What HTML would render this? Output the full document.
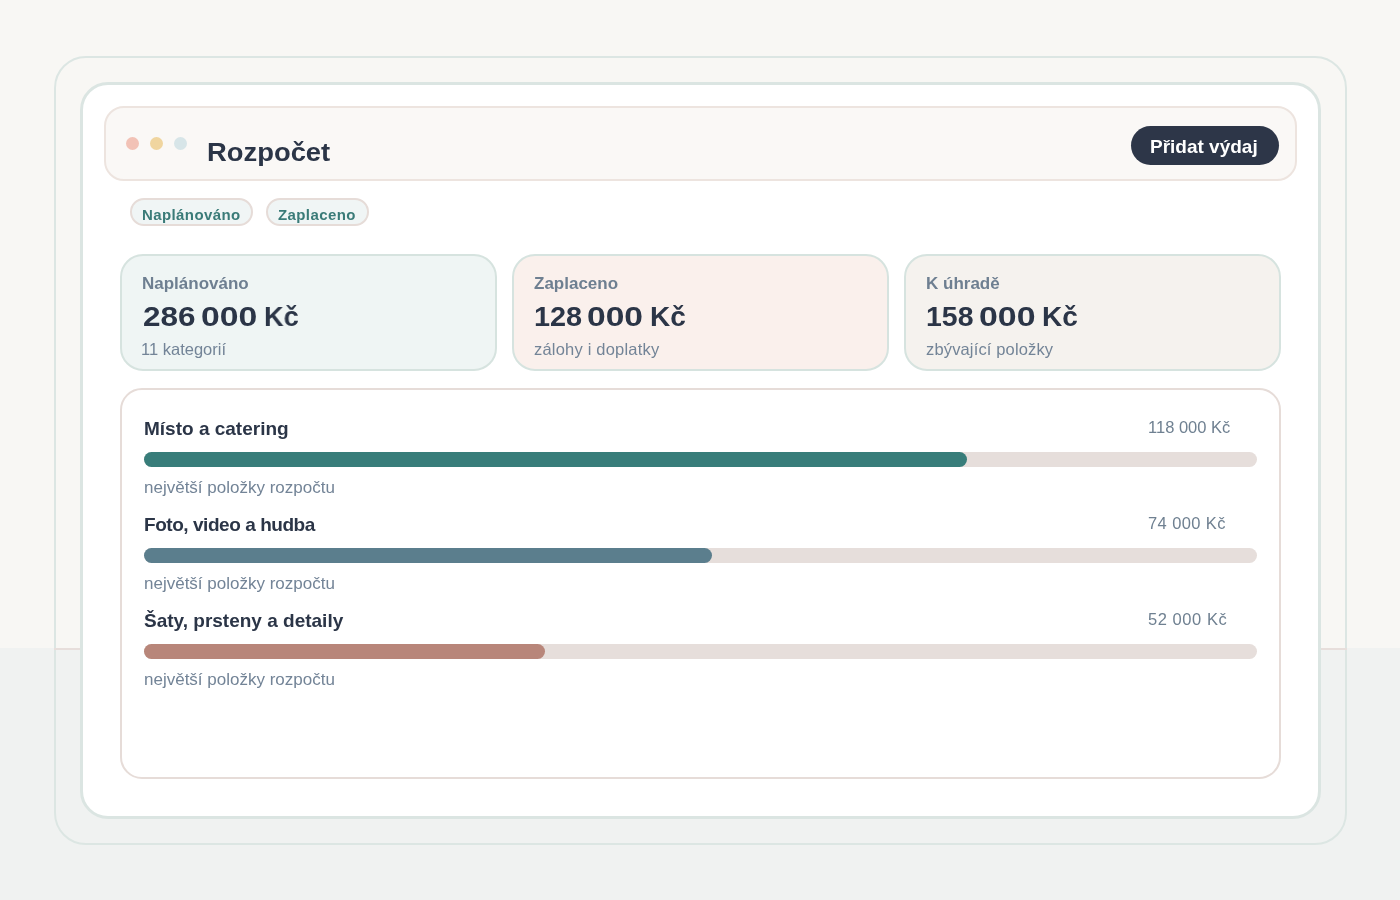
<!DOCTYPE html>
<html><head><meta charset="utf-8">
<style>
*{margin:0;padding:0;box-sizing:border-box}
html,body{width:1400px;height:900px;overflow:hidden}
body{font-family:"Liberation Sans",sans-serif;background:linear-gradient(#f8f7f4 0,#f8f7f4 648px,#f0f2f1 648px,#f0f2f1 900px);position:relative}
.abs{position:absolute}
.t{position:absolute;white-space:nowrap;line-height:1;will-change:transform}
#outer{left:54px;top:56px;width:1293px;height:789px;border:2px solid #dce6e3;border-radius:32px}
#lower{left:54px;top:648px;width:1293px;height:2px;background:#e7dedb}
#card{left:80px;top:82px;width:1241px;height:737px;border:3px solid #dbe5e2;border-radius:28px;background:#fff}
#hdr{left:104px;top:106px;width:1193px;height:75px;border:2px solid #ede4df;border-radius:20px;background:#faf8f6}
.dot{width:13px;height:13px;border-radius:50%;top:136.7px}
#btn{left:1131px;top:126px;width:148px;height:39px;border-radius:20px;background:#2d3648}
.chip{top:198px;height:28px;border:2px solid #e6dcd8;border-radius:14px;background:#f0f5f5}
.stat{top:254px;width:377px;height:117px;border:2px solid #d6e3df;border-radius:23px}
#list{left:120px;top:388px;width:1161px;height:391px;border:2px solid #e6dcd8;border-radius:22px;background:#fff}
.track{left:144px;width:1113px;height:15px;border-radius:8px;background:#e6dedb}
.fill{left:144px;height:15px;border-radius:8px}
.lbl{color:#6e7f91;font-weight:700;font-size:17px}
.val{color:#2b3547;font-weight:700;font-size:28px;transform-origin:0 0}
.sub{color:#738497;font-size:16.5px}
.rt{color:#2b3547;font-weight:700;font-size:19px}
.amt{color:#6f8091;font-size:16.5px}
.rs{color:#738497;font-size:17px}
</style></head><body>
<div class="abs" id="outer"></div>
<div class="abs" id="lower"></div>
<div class="abs" id="card"></div>
<div class="abs" id="hdr"></div>
<div class="abs dot" style="left:126px;background:#f2c2b6"></div>
<div class="abs dot" style="left:150px;background:#f0d59f"></div>
<div class="abs dot" style="left:174px;background:#d7e5e8"></div>
<div class="t" style="left:206.8px;top:138.8px;font-size:26px;font-weight:700;color:#2b3547;transform:scaleX(1.053);transform-origin:0 0">Rozpočet</div>
<div class="abs" id="btn"></div>
<div class="t" style="left:1150px;top:137px;font-size:19px;font-weight:700;color:#fff">Přidat výdaj</div>

<div class="abs chip" style="left:130px;width:123px"></div>
<div class="t" style="left:142px;top:207.2px;font-size:15px;font-weight:700;color:#3a7b78;letter-spacing:0.4px">Naplánováno</div>
<div class="abs chip" style="left:266px;width:103px"></div>
<div class="t" style="left:277.5px;top:207.2px;font-size:15px;font-weight:700;color:#3a7b78;letter-spacing:0.4px">Zaplaceno</div>

<div class="abs stat" style="left:120px;background:#eff5f4"></div>
<div class="abs stat" style="left:512px;background:#faf0ec"></div>
<div class="abs stat" style="left:904px;background:#f5f2ee"></div>

<div class="t lbl" style="left:141.7px;top:274.6px">Naplánováno</div>
<div class="t val" style="left:142.9px;top:303.3px;transform:scaleX(1.124)">286</div><div class="t val" style="left:201.1px;top:303.3px;transform:scaleX(1.205)">000</div><div class="t val" style="left:263.6px;top:303.3px;transform:scaleX(0.97)">Kč</div>
<div class="t sub" style="left:141.2px;top:341px">11 kategorií</div>

<div class="t lbl" style="left:533.7px;top:274.6px">Zaplaceno</div>
<div class="t val" style="left:533.6px;top:303.3px;transform:scaleX(1.03)">128</div><div class="t val" style="left:587.4px;top:303.3px;transform:scaleX(1.2)">000</div><div class="t val" style="left:650.3px;top:303.3px;transform:scaleX(1.0)">Kč</div>
<div class="t sub" style="left:534.2px;top:341px;letter-spacing:0.2px">zálohy i doplatky</div>

<div class="t lbl" style="left:926.2px;top:274.6px">K úhradě</div>
<div class="t val" style="left:926.2px;top:303.3px;transform:scaleX(1.016)">158</div><div class="t val" style="left:979.4px;top:303.3px;transform:scaleX(1.21)">000</div><div class="t val" style="left:1042.2px;top:303.3px;transform:scaleX(1.0)">Kč</div>
<div class="t sub" style="left:926.3px;top:341px;letter-spacing:0.15px">zbývající položky</div>

<div class="abs" id="list"></div>

<div class="t rt" style="left:144px;top:418.9px">Místo a catering</div>
<div class="t amt" style="left:1148px;top:419.1px">118 000 Kč</div>
<div class="abs track" style="top:452px"></div>
<div class="abs fill" style="top:452px;width:823px;background:#387d7a"></div>
<div class="t rs" style="left:144px;top:479.2px">největší položky rozpočtu</div>

<div class="t rt" style="left:144px;top:514.9px;letter-spacing:-0.45px">Foto, video a hudba</div>
<div class="t amt" style="left:1148px;top:515.1px;letter-spacing:0.4px">74 000 Kč</div>
<div class="abs track" style="top:548px"></div>
<div class="abs fill" style="top:548px;width:568px;background:#5b7e8d"></div>
<div class="t rs" style="left:144px;top:575.2px">největší položky rozpočtu</div>

<div class="t rt" style="left:144px;top:610.9px">Šaty, prsteny a detaily</div>
<div class="t amt" style="left:1148px;top:611.1px;letter-spacing:0.55px">52 000 Kč</div>
<div class="abs track" style="top:644px"></div>
<div class="abs fill" style="top:644px;width:401px;background:#b8867a"></div>
<div class="t rs" style="left:144px;top:671.2px">největší položky rozpočtu</div>
</body></html>
